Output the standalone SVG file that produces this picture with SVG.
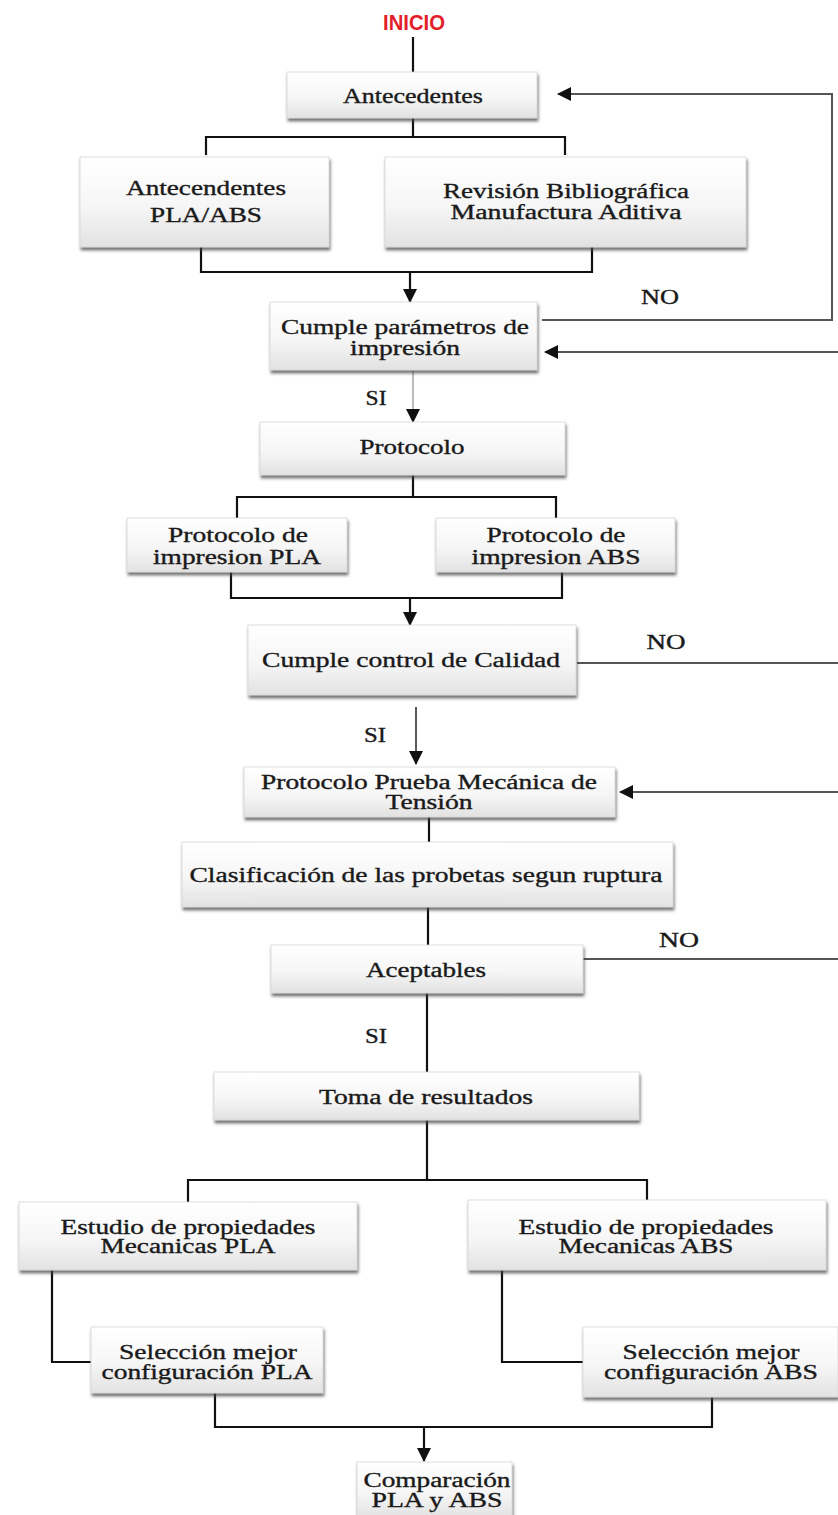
<svg xmlns="http://www.w3.org/2000/svg" width="838" height="1515" viewBox="0 0 838 1515">
<defs>
<linearGradient id="g" x1="0" y1="0" x2="0" y2="1">
<stop offset="0" stop-color="#ffffff"/>
<stop offset="0.55" stop-color="#f6f6f6"/>
<stop offset="1" stop-color="#e2e2e2"/>
</linearGradient>
<filter id="sh" x="-5%" y="-10%" width="112%" height="130%">
<feDropShadow dx="1" dy="3" stdDeviation="1.6" flood-color="#444" flood-opacity="0.75"/>
</filter>
<marker id="ah" markerUnits="userSpaceOnUse" markerWidth="14" markerHeight="14" viewBox="0 0 14 14" refX="13" refY="7" orient="auto">
<path d="M0,0 L14,7 L0,14 Z" fill="#111"/>
</marker>
<style>
.box{fill:url(#g);stroke:#d6d6d6;stroke-width:0.8;filter:url(#sh)}
.t{font-family:"Liberation Serif","Times New Roman",serif;font-size:20px;fill:#1a1a1a;stroke:#1a1a1a;stroke-width:0.35;text-anchor:middle}
.c{fill:none;stroke:#111;stroke-width:2.2}
.g{fill:none;stroke:#555;stroke-width:2}
.thin{fill:none;stroke:#777;stroke-width:1}
.mid{fill:none;stroke:#222;stroke-width:1.5}
</style>
</defs>
<rect width="838" height="1515" fill="#ffffff"/>
<text x="414" y="30" font-family="Liberation Sans,Arial,sans-serif" font-weight="bold" font-size="22" fill="#e3202a" text-anchor="middle" textLength="62" lengthAdjust="spacingAndGlyphs">INICIO</text>

<g id="connectors">
<path class="c" d="M413 37 V72"/>
<path class="c" d="M413 118 V137 M206 155 V137 H565 V155"/>
<path class="c" d="M201 247 V272 H592 V247"/>
<path class="c" d="M410 272 V302" marker-end="url(#ah)"/>
<path class="g" d="M542 320 H832 V94 H558" marker-end="url(#ah)"/>
<path class="g" d="M840 352 H545" marker-end="url(#ah)"/>
<path class="thin" d="M413 370 V422" marker-end="url(#ah)"/>
<path class="c" d="M413 475 V497 M237 518 V497 H556 V518"/>
<path class="c" d="M231 572 V598 H562 V572"/>
<path class="c" d="M410 598 V625" marker-end="url(#ah)"/>
<path class="g" d="M577 663 H840"/>
<path class="mid" d="M416 707 V764" marker-end="url(#ah)"/>
<path class="g" d="M840 792 H620" marker-end="url(#ah)"/>
<path class="c" d="M429 817 V842"/>
<path class="c" d="M428 907 V945"/>
<path class="g" d="M583 959 H840"/>
<path class="c" d="M427 993 V1072"/>
<path class="c" d="M427 1120 V1180 M188 1202 V1180 H647 V1200"/>
<path class="c" d="M52 1270 V1362 H91"/>
<path class="c" d="M502 1270 V1362 H583"/>
<path class="c" d="M215 1393 V1427 H712 V1397"/>
<path class="c" d="M424 1427 V1461" marker-end="url(#ah)"/>
</g>

<g id="labels">
<text class="t" x="660" y="304" textLength="38" lengthAdjust="spacingAndGlyphs">NO</text>
<text class="t" x="376" y="405" textLength="21" lengthAdjust="spacingAndGlyphs">SI</text>
<text class="t" x="666" y="649" textLength="39" lengthAdjust="spacingAndGlyphs">NO</text>
<text class="t" x="375" y="742" textLength="22" lengthAdjust="spacingAndGlyphs">SI</text>
<text class="t" x="679" y="947" textLength="40" lengthAdjust="spacingAndGlyphs">NO</text>
<text class="t" x="376" y="1043" textLength="22" lengthAdjust="spacingAndGlyphs">SI</text>
</g>

<g id="n1"><rect class="box" x="287" y="72" width="250" height="46"/>
<text class="t" x="413" y="103" textLength="140" lengthAdjust="spacingAndGlyphs">Antecedentes</text></g>

<g id="n2"><rect class="box" x="80" y="157" width="249" height="90"/>
<text class="t" x="206" y="195" textLength="160" lengthAdjust="spacingAndGlyphs">Antecendentes</text>
<text class="t" x="206" y="222" textLength="112" lengthAdjust="spacingAndGlyphs">PLA/ABS</text></g>

<g id="n3"><rect class="box" x="385" y="157" width="361" height="90"/>
<text class="t" x="566" y="198" textLength="246" lengthAdjust="spacingAndGlyphs">Revisión Bibliográfica</text>
<text class="t" x="566" y="219" textLength="231" lengthAdjust="spacingAndGlyphs">Manufactura Aditiva</text></g>

<g id="n4"><rect class="box" x="270" y="302" width="267" height="68"/>
<text class="t" x="405" y="334" textLength="248" lengthAdjust="spacingAndGlyphs">Cumple parámetros de</text>
<text class="t" x="405" y="355" textLength="110" lengthAdjust="spacingAndGlyphs">impresión</text></g>

<g id="n5"><rect class="box" x="260" y="422" width="305" height="53"/>
<text class="t" x="412" y="454" textLength="105" lengthAdjust="spacingAndGlyphs">Protocolo</text></g>

<g id="n6"><rect class="box" x="127" y="518" width="220" height="54"/>
<text class="t" x="238" y="542" textLength="140" lengthAdjust="spacingAndGlyphs">Protocolo de</text>
<text class="t" x="237" y="564" textLength="168" lengthAdjust="spacingAndGlyphs">impresion PLA</text></g>

<g id="n7"><rect class="box" x="436" y="518" width="239" height="54"/>
<text class="t" x="556" y="542" textLength="139" lengthAdjust="spacingAndGlyphs">Protocolo de</text>
<text class="t" x="556" y="564" textLength="169" lengthAdjust="spacingAndGlyphs">impresion ABS</text></g>

<g id="n8"><rect class="box" x="248" y="625" width="328" height="70"/>
<text class="t" x="411" y="667" textLength="298" lengthAdjust="spacingAndGlyphs">Cumple control de Calidad</text></g>

<g id="n9"><rect class="box" x="244" y="767" width="371" height="50"/>
<text class="t" x="429" y="789" textLength="336" lengthAdjust="spacingAndGlyphs">Protocolo Prueba Mecánica de</text>
<text class="t" x="429" y="809" textLength="87" lengthAdjust="spacingAndGlyphs">Tensión</text></g>

<g id="n10"><rect class="box" x="182" y="842" width="491" height="65"/>
<text class="t" x="426" y="882" textLength="473" lengthAdjust="spacingAndGlyphs">Clasificación de las probetas segun ruptura</text></g>

<g id="n11"><rect class="box" x="271" y="945" width="312" height="48"/>
<text class="t" x="426" y="977" textLength="120" lengthAdjust="spacingAndGlyphs">Aceptables</text></g>

<g id="n12"><rect class="box" x="214" y="1072" width="425" height="48"/>
<text class="t" x="426" y="1104" textLength="214" lengthAdjust="spacingAndGlyphs">Toma de resultados</text></g>

<g id="n13"><rect class="box" x="19" y="1202" width="338" height="68"/>
<text class="t" x="188" y="1234" textLength="255" lengthAdjust="spacingAndGlyphs">Estudio de propiedades</text>
<text class="t" x="188" y="1253" textLength="175" lengthAdjust="spacingAndGlyphs">Mecanicas PLA</text></g>

<g id="n14"><rect class="box" x="468" y="1200" width="358" height="70"/>
<text class="t" x="646" y="1234" textLength="255" lengthAdjust="spacingAndGlyphs">Estudio de propiedades</text>
<text class="t" x="646" y="1253" textLength="175" lengthAdjust="spacingAndGlyphs">Mecanicas ABS</text></g>

<g id="n15"><rect class="box" x="91" y="1327" width="232" height="66"/>
<text class="t" x="208" y="1359" textLength="178" lengthAdjust="spacingAndGlyphs">Selección mejor</text>
<text class="t" x="207" y="1379" textLength="211" lengthAdjust="spacingAndGlyphs">configuración PLA</text></g>

<g id="n16"><rect class="box" x="583" y="1327" width="255" height="70"/>
<text class="t" x="711" y="1359" textLength="177" lengthAdjust="spacingAndGlyphs">Selección mejor</text>
<text class="t" x="711" y="1379" textLength="214" lengthAdjust="spacingAndGlyphs">configuración ABS</text></g>

<g id="n17"><rect class="box" x="357" y="1462" width="155" height="56"/>
<text class="t" x="437" y="1487" textLength="147" lengthAdjust="spacingAndGlyphs">Comparación</text>
<text class="t" x="437" y="1507" textLength="131" lengthAdjust="spacingAndGlyphs">PLA y ABS</text></g>
</svg>
